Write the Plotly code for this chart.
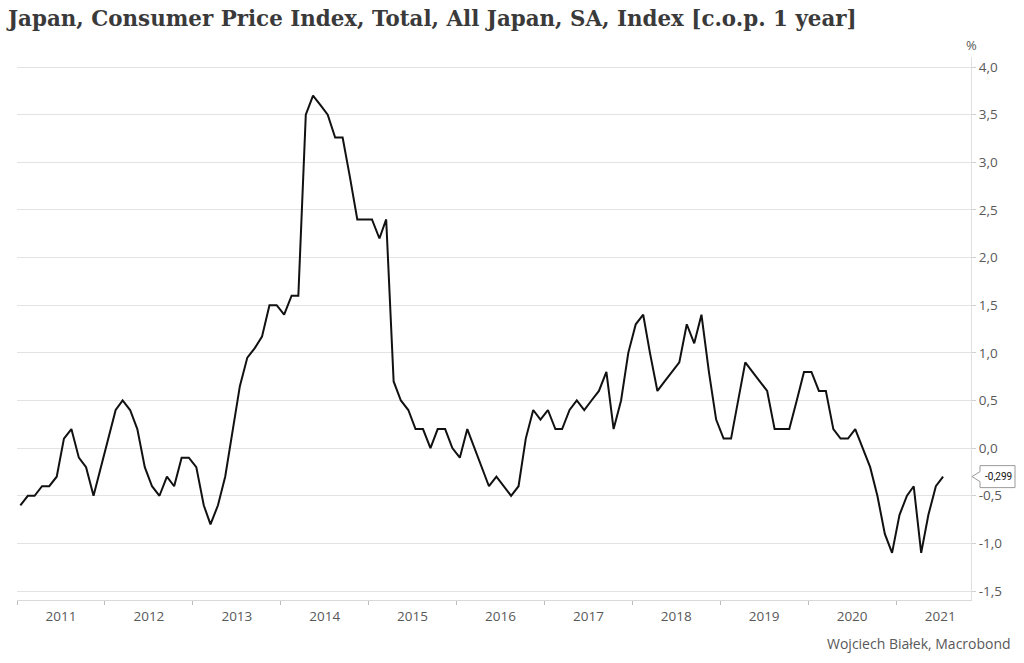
import pandas as pd
import plotly.graph_objects as go

# Monthly data, Jan 2011 .. Jul 2021 (% change over 1 year)
start_month = "2011-01-15"
values = [
    # 2011
    -0.6, -0.5, -0.5, -0.4, -0.4, -0.3, 0.1, 0.2, -0.1, -0.2, -0.5, -0.2,
    # 2012
    0.1, 0.4, 0.5, 0.4, 0.2, -0.2, -0.4, -0.5, -0.3, -0.4, -0.1, -0.1,
    # 2013
    -0.2, -0.6, -0.8, -0.6, -0.3, 0.2, 0.65, 0.95, 1.05, 1.17, 1.5, 1.5,
    # 2014
    1.4, 1.6, 1.6, 3.5, 3.7, 3.6, 3.5, 3.26, 3.26, 2.85, 2.4, 2.4,
    # 2015
    2.4, 2.2, 2.4, 0.7, 0.5, 0.4, 0.2, 0.2, 0.0, 0.2, 0.2, 0.0,
    # 2016
    -0.1, 0.2, 0.0, -0.2, -0.4, -0.3, -0.4, -0.5, -0.4, 0.1, 0.4, 0.3,
    # 2017
    0.4, 0.2, 0.2, 0.4, 0.5, 0.4, 0.5, 0.6, 0.8, 0.2, 0.5, 1.0,
    # 2018
    1.3, 1.4, 1.0, 0.6, 0.7, 0.8, 0.9, 1.3, 1.1, 1.4, 0.8, 0.3,
    # 2019
    0.1, 0.1, 0.5, 0.9, 0.8, 0.7, 0.6, 0.2, 0.2, 0.2, 0.5, 0.8,
    # 2020
    0.8, 0.6, 0.6, 0.2, 0.1, 0.1, 0.2, 0.0, -0.2, -0.5, -0.9, -1.1,
    # 2021
    -0.7, -0.5, -0.4, -1.1, -0.7, -0.4, -0.299,
]
dates = pd.date_range("2011-01-01", periods=len(values), freq="MS") + pd.Timedelta(days=14)

y_ticks = [-1.5, -1.0, -0.5, 0.0, 0.5, 1.0, 1.5, 2.0, 2.5, 3.0, 3.5, 4.0]
y_ticktext = [f"{v:.1f}".replace(".", ",") for v in y_ticks]
last_value = values[-1]
last_label = f"{last_value:.3f}".replace(".", ",")

title_text = "Japan, Consumer Price Index, Total, All Japan, SA, Index [c.o.p. 1 year]"
source_text = "Wojciech Białek, Macrobond"

grey_text = "#595959"
grid = "#e3e3e3"

fig = go.Figure()
fig.add_trace(go.Scatter(
    x=dates, y=values, mode="lines",
    line=dict(color="#111111", width=2),
    hoverinfo="skip", showlegend=False,
))

fig.update_layout(
    width=1024, height=663,
    margin=dict(l=17, r=53, t=57, b=63, autoexpand=False),
    paper_bgcolor="white", plot_bgcolor="white",
    showlegend=False,
    title=dict(
        text="<b>" + title_text + "</b>",
        x=8 / 1024, xanchor="left", xref="container",
        y=1 - 19 / 663, yanchor="middle", yref="container",
        font=dict(family="DejaVu Serif", size=21.4, color="#3a3a3a"),
    ),
    font=dict(family="Open Sans", color=grey_text),
)

fig.update_xaxes(
    type="date",
    range=["2011-01-01", "2021-11-08"],
    tick0="2011-01-01", dtick="M12",
    ticklabelmode="period",
    tickformat="%Y",
    ticks="outside", ticklen=4, tickcolor="#bdbdbd", tickwidth=1,
    showline=True, linecolor="#d9d9d9", linewidth=1,
    showgrid=False, zeroline=False,
    tickfont=dict(family="Open Sans", size=13.5, color=grey_text),
    automargin=False,
)

fig.update_yaxes(
    side="right",
    range=[-1.594, 4.105],
    tickvals=y_ticks, ticktext=y_ticktext,
    ticks="outside", ticklen=4, tickcolor="#cfcfcf", tickwidth=1,
    showline=True, linecolor="#e0e0e0", linewidth=1,
    showgrid=True, gridcolor=grid, gridwidth=1,
    zeroline=False,
    tickfont=dict(family="Open Sans", size=13.5, color=grey_text),
    automargin=False,
)

# "%" unit label above the axis
fig.add_annotation(
    x=1, xref="paper", y=1, yref="paper", yshift=12,
    text="%", showarrow=False, xanchor="center", yanchor="middle",
    font=dict(family="Open Sans", size=13, color=grey_text),
)

# last value callout
fig.add_shape(
    type="path", xref="paper", yref="y",
    xsizemode="pixel", ysizemode="pixel",
    xanchor=1, yanchor=last_value,
    path="M 1,0 L 9,5 L 9,11 L 44,11 L 44,-11 L 9,-11 L 9,-5 Z",
    line=dict(color="#9a9a9a", width=1), fillcolor="white",
)
fig.add_annotation(
    x=1, xref="paper", y=last_value, yref="y", xshift=27,
    text=last_label, showarrow=False, xanchor="center", yanchor="middle",
    font=dict(family="Roboto", size=10, color="#111111"),
)

# source
fig.add_annotation(
    x=1 + (1013 - 971) / 954, y=-(643 - 600) / 543,
    xref="paper", yref="paper",
    text=source_text, showarrow=False,
    xanchor="right", yanchor="middle",
    font=dict(family="Open Sans", size=14, color=grey_text),
)

fig.write_html(
    "out.html",
    config={"displayModeBar": False},
    post_script="document.body.style.margin='0';document.body.style.overflow='hidden';",
)
